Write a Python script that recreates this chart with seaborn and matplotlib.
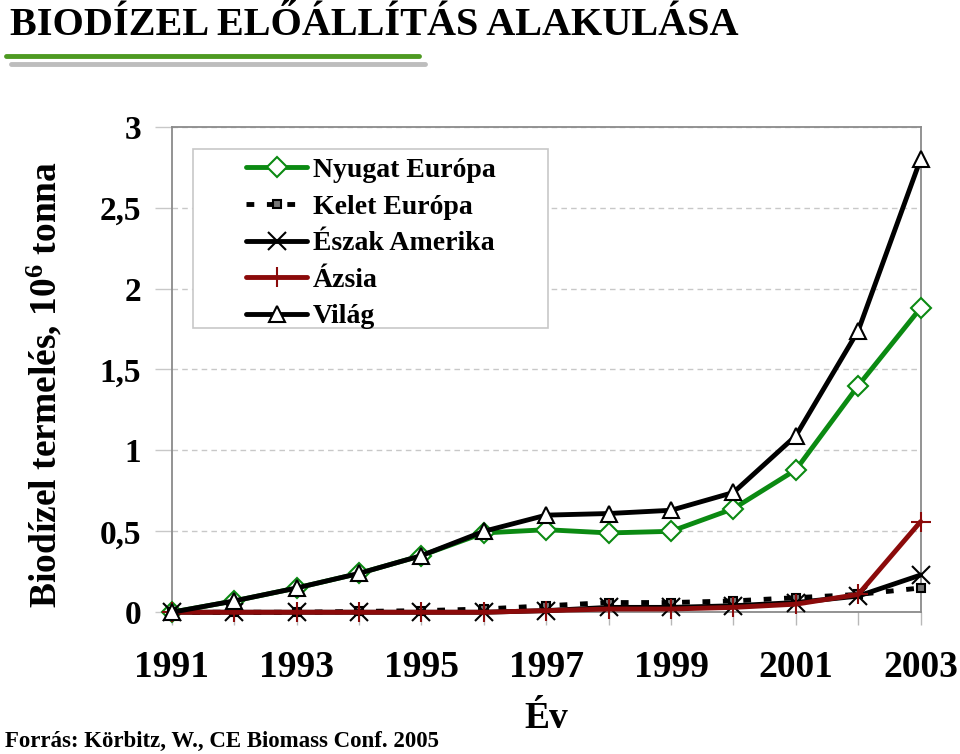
import numpy as np
import pandas as pd
import seaborn as sns
import matplotlib
matplotlib.use("Agg")
import matplotlib.pyplot as plt
from matplotlib.lines import Line2D
from matplotlib.patches import Rectangle

# ---- data ----
years = [1991, 1992, 1993, 1994, 1995, 1996, 1997, 1998, 1999, 2000, 2001, 2002, 2003]
nyugat_europa = [0, 0.07, 0.15, 0.24, 0.35, 0.49, 0.51, 0.49, 0.50, 0.64, 0.88, 1.40, 1.88]
kelet_europa = [0, 0, 0, 0.005, 0.01, 0.02, 0.04, 0.06, 0.06, 0.07, 0.09, 0.11, 0.15]
eszak_amerika = [0, 0, 0, 0, 0, 0, 0.01, 0.03, 0.03, 0.04, 0.06, 0.10, 0.23]
azsia = [0, 0, 0, 0, 0, 0, 0.01, 0.02, 0.02, 0.03, 0.05, 0.11, 0.56]
vilag = [0, 0.07, 0.15, 0.24, 0.35, 0.50, 0.60, 0.61, 0.63, 0.74, 1.09, 1.74, 2.80]
series_names = ["Nyugat Európa", "Kelet Európa", "Észak Amerika", "Ázsia", "Világ"]
x_tick_labels = ["1991", "", "1993", "", "1995", "", "1997", "", "1999", "", "2001", "", "2003"]
y_ticks = [0, 0.5, 1, 1.5, 2, 2.5, 3]
y_tick_labels = ["0", "0,5", "1", "1,5", "2", "2,5", "3"]

title = "BIODÍZEL ELŐÁLLÍTÁS ALAKULÁSA"
y_label = "Biodízel termelés, 10$^{6}$ tonna"
x_label = "Év"
source = "Forrás: Körbitz, W., CE Biomass Conf. 2005"

df = pd.DataFrame({
    "Év": years * 5,
    "érték": nyugat_europa + kelet_europa + eszak_amerika + azsia + vilag,
    "sorozat": sum([[n] * len(years) for n in series_names], []),
})

sns.set_theme(style="white")
plt.rcParams["font.family"] = ["Liberation Serif", "DejaVu Serif"]
plt.rcParams["font.weight"] = "bold"
plt.rcParams["text.color"] = "black"
plt.rcParams["axes.labelcolor"] = "black"
plt.rcParams["xtick.labelcolor"] = "black"
plt.rcParams["ytick.labelcolor"] = "black"
plt.rcParams["mathtext.fontset"] = "custom"
plt.rcParams["mathtext.rm"] = "Liberation Serif:bold"
plt.rcParams["mathtext.it"] = "Liberation Serif:bold"
plt.rcParams["mathtext.bf"] = "Liberation Serif:bold"

GREEN = "#0b8a12"
DARKRED = "#8b0a0a"

styles = {
    "Nyugat Európa": dict(color=GREEN, marker="D", markersize=10, mfc="white", mec=GREEN, mew=1.5, ls="-"),
    "Kelet Európa": dict(color="black", marker="s", markersize=6, mfc="#777777", mec="black", mew=1.5, ls=(0, (1.6, 2.6))),
    "Észak Amerika": dict(color="black", marker="x", markersize=13, mfc="black", mec="black", mew=1.5, ls="-"),
    "Ázsia": dict(color=DARKRED, marker="+", markersize=15, mfc=DARKRED, mec=DARKRED, mew=1.5, ls="-"),
    "Világ": dict(color="black", marker="^", markersize=12, mfc="white", mec="black", mew=1.5, ls="-"),
}

fig = plt.figure(figsize=(9.6, 7.54), dpi=100)
ax = fig.add_axes([0.179, 0.188, 0.780, 0.644])

for name in series_names:
    st = styles[name]
    sub = df[df["sorozat"] == name]
    sns.lineplot(data=sub, x="Év", y="érték", ax=ax, color=st["color"], linewidth=3.5,
                 linestyle=st["ls"], marker=st["marker"], markersize=st["markersize"],
                 markerfacecolor=st["mfc"], markeredgecolor=st["mec"], markeredgewidth=st["mew"],
                 clip_on=False, legend=False, zorder=3)

ax.set_xlim(1991, 2003)
ax.set_ylim(0, 3)
ax.set_xticks(years)
ax.set_xticklabels(x_tick_labels, fontsize=27, fontweight="bold")
ax.set_yticks(y_ticks)
ax.set_yticklabels(y_tick_labels, fontsize=24, fontweight="bold")
ax.tick_params(axis="x", direction="out", length=9, color="#b8b8b8", width=1, pad=18, bottom=True)
ax.tick_params(axis="y", direction="out", length=12, color="#c8c8c8", width=1, pad=10, left=True)
ax.yaxis.grid(True, linestyle=(0, (4, 3)), color="#c8c8c8", linewidth=1)
ax.set_axisbelow(True)
for s in ax.spines.values():
    s.set_color("#8a8a8a")
    s.set_linewidth(1.3)

ax.set_xlabel(x_label, fontsize=27, fontweight="bold", labelpad=12)
ax.set_ylabel("")
fig.text(0.047, 0.49, y_label, rotation=90, fontsize=27, fontweight="bold",
         ha="center", va="center")

# legend box
ax.add_patch(Rectangle((0.028, 0.586), 0.474, 0.369, transform=ax.transAxes,
                       facecolor="white", edgecolor="#c8c8c8", linewidth=1.2, zorder=2.5))
handles = []
for name in series_names:
    st = styles[name]
    handles.append(Line2D([], [], color=st["color"], linewidth=3.5, linestyle=st["ls"],
                          marker=st["marker"], markersize=st["markersize"],
                          markerfacecolor=st["mfc"], markeredgecolor=st["mec"],
                          markeredgewidth=st["mew"]))
leg = ax.legend(handles, series_names, loc="upper left", bbox_to_anchor=(0.099, 0.936),
                borderaxespad=0, frameon=False,
                prop={"family": "Liberation Serif", "weight": "bold", "size": 20},
                handlelength=2.2, handletextpad=0.2, labelspacing=0.4, borderpad=0)
leg.set_zorder(4)

fig.text(0.010, 0.966, title, fontsize=29, fontweight="bold", ha="left", va="center")
fig.add_artist(Line2D([0.006, 0.436], [0.926, 0.926], color="#4e9a22", linewidth=3.5))
fig.add_artist(Line2D([0.011, 0.443], [0.915, 0.915], color="#bdbdbd", linewidth=3.5))
fig.text(0.005, 0.017, source, fontsize=16.5, fontweight="bold", ha="left", va="center")

fig.savefig("out.png", dpi=100)
